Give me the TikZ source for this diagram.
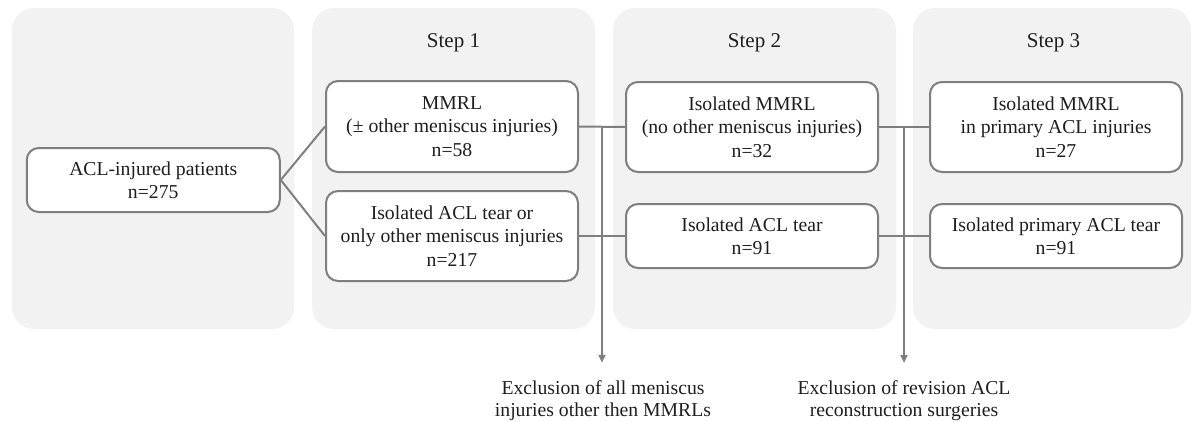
\documentclass[tikz,border=0pt]{standalone}
\usepackage{fontspec}
\setmainfont{Liberation Serif}
\usetikzlibrary{arrows.meta,calc}
\definecolor{panelgray}{RGB}{242,242,242}
\definecolor{linegray}{RGB}{127,127,127}
\definecolor{txt}{RGB}{30,30,30}
\begin{document}
\begin{tikzpicture}[x=1pt,y=-1pt,
  panel/.style={fill=panelgray, rounded corners=22pt},
  box/.style={draw=linegray, line width=2pt, fill=white, rounded corners=12pt,
    align=center, text=txt, font=\fontsize{19.7}{23.3}\selectfont,
    inner sep=0pt, minimum width=252pt},
  conn/.style={draw=linegray, line width=2pt},
  steplabel/.style={font=\fontsize{21}{25}\selectfont, text=txt, anchor=base},
  excl/.style={font=\fontsize{19.7}{22.5}\selectfont, text=txt, align=center, anchor=north, inner sep=0pt}]
\useasboundingbox (0,0) rectangle (1192,421);
% panels
\fill[panel] (12,8) rectangle (294,329);
\fill[panel] (312,8) rectangle (595,329);
\fill[panel] (613,8) rectangle (896,329);
\fill[panel] (913,8) rectangle (1191,329);
% step labels
\node[steplabel] (s1) at (453.5,47) {Step 1};
\node[steplabel] (s2) at (754.5,47) {Step 2};
\node[steplabel] (s3) at (1053.5,47) {Step 3};
% boxes
\node[box, minimum width=253pt, minimum height=64pt] (acl) at (153.25,180) {ACL-injured patients\\n=275};
\node[box, minimum height=91pt] (mmrl) at (452,126.5) {MMRL\\(± other meniscus injuries)\\n=58};
\node[box, minimum height=90pt] (isoor) at (452,236) {Isolated ACL tear or\\only other meniscus injuries\\n=217};
\node[box, minimum height=90pt] (s2top) at (752,127) {Isolated MMRL\\(no other meniscus injuries)\\n=32};
\node[box, minimum height=64pt] (s2bot) at (752,236) {Isolated ACL tear\\n=91};
\node[box, minimum height=90pt] (s3top) at (1056,127) {Isolated MMRL\\in primary ACL injuries\\n=27};
\node[box, minimum height=64pt] (s3bot) at (1056,236) {Isolated primary ACL tear\\n=91};
% connectors
\draw[conn] (acl.east) -- (mmrl.west);
\draw[conn] (acl.east) -- (isoor.west);
\draw[conn] (mmrl.east) -- (s2top.west);
\draw[conn] (isoor.east) -- (s2bot.west);
\draw[conn] (s2top.east) -- (s3top.west);
\draw[conn] (s2bot.east) -- (s3bot.west);
\coordinate (j1) at ($(mmrl.east)!0.5!(s2top.west)$);
\coordinate (j2) at ($(s2top.east)!0.5!(s3top.west)$);
\path (j1) ++(0,236) coordinate (e1);
\path (j2) ++(0,236) coordinate (e2);
\draw[conn, -{Triangle[length=8pt,width=7pt]}] (j1) -- (e1);
\draw[conn, -{Triangle[length=8pt,width=7pt]}] (j2) -- (e2);
% exclusion texts
\node[excl] (x1) at (603,380) {Exclusion of all meniscus\\injuries other then MMRLs};
\node[excl] (x2) at (904,380) {Exclusion of revision ACL\\reconstruction surgeries};
\end{tikzpicture}
\end{document}
